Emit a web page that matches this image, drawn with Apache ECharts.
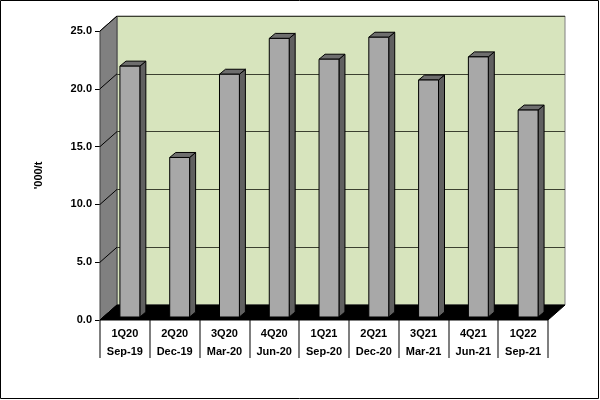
<!DOCTYPE html>
<html>
<head>
<meta charset="utf-8">
<script src="https://cdn.jsdelivr.net/npm/echarts@6/dist/echarts.min.js"></script>
<style>
  html, body { margin: 0; padding: 0; background: #fff; }
  #main { width: 600px; height: 400px; }
</style>
</head>
<body>
<div id="main"></div>
<script>
// 季度标签 + 月份
var quarters = ['1Q20', '2Q20', '3Q20', '4Q20', '1Q21', '2Q21', '3Q21', '4Q21', '1Q22'];
var months = ['Sep-19', 'Dec-19', 'Mar-20', 'Jun-20', 'Sep-20', 'Dec-20', 'Mar-21', 'Jun-21', 'Sep-21'];
var values = [21.7, 13.8, 21.0, 24.1, 22.3, 24.2, 20.5, 22.5, 17.9];
var yTicks = [0, 5, 10, 15, 20, 25];

var categories = quarters.map(function (q, i) { return q + '\n' + months[i]; });

// 3D depth of the plot box (px)
var DX = 17, DY = -15;

var font = '"Liberation Sans", Arial, sans-serif';

var myChart = echarts.init(document.getElementById('main'));

var option = {
  backgroundColor: '#fff',
  animation: false,
  graphic: [{
    type: 'rect',
    shape: { x: 0.5, y: 0.5, width: 598, height: 398 },
    style: { fill: 'none', stroke: '#000', lineWidth: 1 },
    silent: true
  }],
  grid: [
    { // front plane
      left: 100, right: 52, top: 31, bottom: 80,
      show: false
    },
    { // back wall
      left: 100 + DX, right: 52 - DX, top: 31 + DY, bottom: 80 - DY,
      show: true,
      backgroundColor: '#d7e4bd',
      borderColor: '#808080',
      borderWidth: 1
    }
  ],
  xAxis: [{
    gridIndex: 0,
    type: 'category',
    data: categories,
    boundaryGap: true,
    axisLine: { show: false },
    axisTick: {
      show: true, interval: 0, length: 38,
      lineStyle: { color: '#555', width: 1.5 }
    },
    axisLabel: {
      interval: 0, margin: 5,
      fontFamily: font, fontWeight: 'bold', fontSize: 11,
      color: '#000', lineHeight: 18
    }
  }, {
    gridIndex: 1,
    type: 'category',
    data: categories,
    show: false
  }],
  yAxis: [{
    gridIndex: 0,
    type: 'value',
    min: 0, max: 25, interval: 5,
    name: "'000/t",
    nameLocation: 'middle',
    nameGap: 56,
    nameTextStyle: { fontFamily: font, fontWeight: 'bold', fontSize: 11, color: '#000' },
    axisLine: { show: false },
    axisTick: { show: true, length: 5, lineStyle: { color: '#000' } },
    splitLine: { show: false },
    axisLabel: {
      margin: 8,
      fontFamily: font, fontWeight: 'bold', fontSize: 11, color: '#000',
      formatter: function (v) { return v.toFixed(1); }
    }
  }, {
    gridIndex: 1,
    type: 'value',
    min: 0, max: 25, interval: 5,
    axisLine: { show: false },
    axisTick: { show: false },
    axisLabel: { show: false },
    splitLine: { show: true, lineStyle: { color: '#3c4030', width: 1 } }
  }],
  series: [{
    // 左墙 + 地板
    type: 'custom',
    xAxisIndex: 0,
    yAxisIndex: 0,
    z: 1,
    silent: true,
    data: [[0, 0]],
    renderItem: function (params, api) {
      var bw = api.size([1, 0])[0];
      var left = api.coord([0, 0])[0] - bw / 2;
      var right = api.coord([quarters.length - 1, 0])[0] + bw / 2;
      var y0 = api.coord([0, 0])[1];
      var yTop = api.coord([0, 25])[1];
      var children = [{
        type: 'polygon',
        shape: { points: [[left, yTop], [left + DX, yTop + DY], [left + DX, y0 + DY], [left, y0]] },
        style: { fill: '#808080', stroke: '#404040', lineWidth: 1 }
      }, {
        type: 'polygon',
        shape: { points: [[left, y0], [left + DX, y0 + DY], [right + DX, y0 + DY], [right, y0]] },
        style: { fill: '#000', stroke: '#000', lineWidth: 1 }
      }];
      yTicks.forEach(function (t) {
        var y = api.coord([0, t])[1];
        children.push({
          type: 'line',
          shape: { x1: left, y1: y, x2: left + DX, y2: y + DY },
          style: { stroke: '#000', lineWidth: 1 }
        });
      });
      return { type: 'group', children: children };
    }
  }, {
    // 3D 柱子
    type: 'custom',
    xAxisIndex: 0,
    yAxisIndex: 0,
    z: 3,
    data: values.map(function (v, i) { return [i, v]; }),
    encode: { x: 0, y: 1 },
    renderItem: function (params, api) {
      var base = api.coord([api.value(0), 0]);
      var top = api.coord([api.value(0), api.value(1)]);
      var w = api.size([1, 0])[0] * 0.4;
      var ox = 5, oy = -3, d = 6, dh = -5;
      var x1 = base[0] - w / 2 + ox, x2 = base[0] + w / 2 + ox;
      var yb = base[1] + oy, yt = top[1] + oy;
      var stroke = { stroke: '#000', lineWidth: 1 };
      return {
        type: 'group',
        children: [{
          type: 'polygon',
          shape: { points: [[x2, yt], [x2 + d, yt + dh], [x2 + d, yb + dh], [x2, yb]] },
          style: Object.assign({ fill: '#606060' }, stroke)
        }, {
          type: 'polygon',
          shape: { points: [[x1, yt], [x1 + d, yt + dh], [x2 + d, yt + dh], [x2, yt]] },
          style: Object.assign({ fill: '#6e6e6e' }, stroke)
        }, {
          type: 'rect',
          shape: { x: x1, y: yt, width: x2 - x1, height: yb - yt },
          style: Object.assign({ fill: '#a8a8a8' }, stroke)
        }]
      };
    }
  }]
};

myChart.setOption(option);
</script>
</body>
</html>
